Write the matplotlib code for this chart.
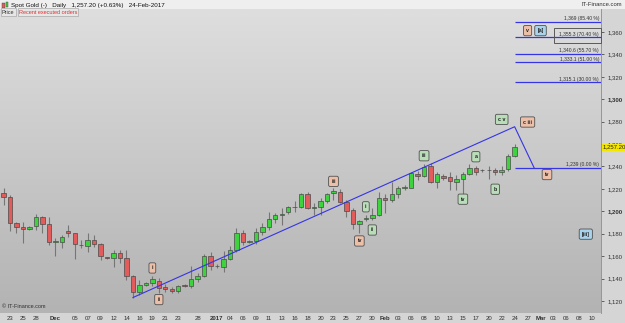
import numpy as np
import pandas as pd
import matplotlib.pyplot as plt
from matplotlib.patches import Rectangle
from matplotlib.colors import LinearSegmentedColormap
import matplotlib.transforms as mtransforms

plt.rcParams['font.family'] = ['Liberation Sans', 'DejaVu Sans']

# daily bars from 22-Nov-2016 to 24-Feb-2017 (Sunday sessions included)
opens = [1216.1, 1212.5, 1189.3, 1185.7, 1184.0, 1186.9, 1194.7, 1188.7, 1172.5, 1172.9,
         1182.7, 1180.4, 1170.0, 1169.3, 1174.4, 1170.5, 1158.6, 1158.0, 1163.0, 1158.0,
         1142.5, 1127.7, 1134.0, 1136.2, 1138.0, 1132.1, 1130.6, 1128.8, 1134.0, 1133.3,
         1139.3, 1142.2, 1160.1, 1151.5, 1150.0, 1157.1, 1165.5, 1180.4, 1173.0, 1173.8,
         1181.8, 1185.7, 1193.1, 1196.3, 1199.6, 1203.8, 1203.6, 1215.2, 1203.0, 1203.6,
         1209.2, 1216.0, 1217.5, 1208.6, 1201.0, 1188.7, 1192.9, 1193.8, 1196.7, 1211.6,
         1210.1, 1215.2, 1220.7, 1221.1, 1233.3, 1231.5, 1240.4, 1226.4, 1231.8, 1230.4,
         1226.4, 1228.6, 1233.0, 1238.4, 1236.5, 1236.8, 1236.9, 1234.8, 1237.8, 1249.6]
highs = [1220.8, 1214.6, 1190.7, 1190.7, 1187.0, 1197.6, 1195.8, 1194.7, 1175.9, 1178.8,
         1187.8, 1180.9, 1174.4, 1180.4, 1178.8, 1171.4, 1159.5, 1165.5, 1165.5, 1165.5,
         1143.1, 1138.7, 1137.0, 1142.2, 1140.4, 1134.8, 1132.0, 1134.5, 1135.0, 1151.0,
         1144.5, 1161.9, 1164.0, 1153.0, 1164.8, 1169.0, 1184.8, 1183.3, 1174.0, 1184.8,
         1189.3, 1199.6, 1198.1, 1202.7, 1204.8, 1209.5, 1216.7, 1217.6, 1207.0, 1212.2,
         1216.7, 1220.5, 1219.6, 1210.0, 1202.7, 1192.2, 1196.7, 1202.7, 1217.6, 1215.5,
         1226.4, 1222.9, 1223.5, 1235.4, 1236.0, 1242.2, 1242.8, 1234.8, 1233.0, 1234.8,
         1232.1, 1234.8, 1242.2, 1240.0, 1238.0, 1240.0, 1238.4, 1240.0, 1250.8, 1259.8]
lows = [1205.6, 1182.0, 1180.4, 1171.4, 1183.0, 1183.3, 1180.4, 1169.9, 1160.1, 1166.9,
        1177.3, 1157.1, 1166.9, 1164.0, 1168.4, 1156.5, 1157.0, 1150.5, 1153.6, 1138.7,
        1123.0, 1125.3, 1133.0, 1133.3, 1127.1, 1128.0, 1127.0, 1126.9, 1132.5, 1131.3,
        1136.5, 1141.0, 1147.6, 1149.5, 1146.1, 1156.5, 1164.0, 1169.9, 1172.0, 1171.0,
        1178.8, 1183.3, 1189.5, 1187.8, 1197.6, 1199.0, 1202.7, 1201.8, 1196.7, 1197.0,
        1207.7, 1210.0, 1207.1, 1195.2, 1184.2, 1180.4, 1191.0, 1192.0, 1195.8, 1198.2,
        1208.6, 1212.0, 1219.0, 1220.5, 1228.0, 1230.9, 1225.0, 1220.5, 1228.0, 1219.0,
        1219.0, 1213.0, 1232.1, 1232.7, 1235.0, 1229.0, 1232.4, 1232.4, 1236.0, 1248.8]
closes = [1213.0, 1189.3, 1185.7, 1184.0, 1186.2, 1194.7, 1188.7, 1172.3, 1173.0, 1176.8,
          1180.4, 1170.5, 1169.6, 1174.4, 1170.5, 1160.1, 1158.3, 1162.5, 1158.0, 1142.5,
          1127.7, 1134.2, 1136.0, 1139.2, 1131.8, 1130.6, 1128.8, 1133.3, 1133.6, 1139.3,
          1142.2, 1160.1, 1151.2, 1151.0, 1157.1, 1165.5, 1180.4, 1172.3, 1173.5, 1181.8,
          1185.7, 1193.1, 1196.7, 1197.8, 1203.6, 1203.5, 1215.2, 1202.7, 1203.6, 1209.2,
          1215.2, 1218.0, 1208.6, 1200.5, 1188.4, 1191.3, 1194.3, 1196.7, 1211.6, 1210.1,
          1215.2, 1220.5, 1221.4, 1233.9, 1231.8, 1239.8, 1226.4, 1233.3, 1230.0, 1227.1,
          1228.6, 1233.0, 1238.4, 1234.8, 1236.9, 1236.5, 1234.8, 1236.9, 1249.6, 1257.2]

# trading calendar incl. empty future bars up to 10-Mar
days = pd.date_range("2016-11-22", "2017-03-10")
days = days[(days.dayofweek != 5) & ~days.isin(pd.to_datetime(["2016-12-25", "2017-01-01"]))]
pos = {d.strftime("%Y-%m-%d"): k for k, d in enumerate(days)}

tick_dates = ["2016-11-23", "2016-11-25", "2016-11-28", "2016-12-01", "2016-12-05", "2016-12-07",
              "2016-12-09", "2016-12-12", "2016-12-14", "2016-12-16", "2016-12-19", "2016-12-21",
              "2016-12-23", "2016-12-28", "2017-01-02", "2017-01-04", "2017-01-06", "2017-01-09",
              "2017-01-11", "2017-01-13", "2017-01-16", "2017-01-18", "2017-01-20", "2017-01-23",
              "2017-01-25", "2017-01-27", "2017-01-30", "2017-02-01", "2017-02-03", "2017-02-06",
              "2017-02-08", "2017-02-10", "2017-02-13", "2017-02-15", "2017-02-17", "2017-02-20",
              "2017-02-22", "2017-02-24", "2017-02-27", "2017-03-01", "2017-03-03", "2017-03-06",
              "2017-03-08", "2017-03-10"]
month_marks = {"2016-12-01": "Dec", "2017-01-02": "2017", "2017-02-01": "Feb", "2017-03-01": "Mar"}

# retracement levels
fib_prices = [1369.0, 1355.3, 1340.6, 1333.1, 1315.1]
fib_labels = ["1,369 (85.40 %)", "1,355.3 (70.40 %)", "1,340.6 (55.70 %)",
              "1,333.1 (51.00 %)", "1,315.1 (30.00 %)"]
base_price = 1239.0

# trend line (date, price)
trend_dates = ["2016-12-15", "2017-02-24", "2017-02-28"]
trend_prices = [1123.0, 1275.5, 1239.0]

# wave count labels: text, date, price, style
waves = [("i", "2016-12-19", 1149.4, "s"), ("ii", "2016-12-20", 1121.2, "s"),
         ("iii", "2017-01-23", 1226.7, "s"), ("iv", "2017-01-27", 1173.5, "s"),
         ("i", "2017-01-29", 1204.0, "g"), ("ii", "2017-01-30", 1183.3, "g"),
         ("iii", "2017-02-08", 1249.6, "g"), ("iv", "2017-02-15", 1210.8, "g"),
         ("a", "2017-02-17", 1248.7, "g"), ("b", "2017-02-21", 1219.7, "g"),
         ("c v", "2017-02-22", 1282.0, "g"), ("c iii", "2017-02-27", 1279.7, "s"),
         ("iv", "2017-03-02", 1232.8, "s"), ("[iii]", "2017-03-09", 1179.6, "b"),
         ("v", "2017-02-27", 1361.3, "s"), ("[a]", "2017-03-01", 1361.3, "b")]
box_colors = {"s": "#ebbfa8", "g": "#b9dcb9", "b": "#a9d3ea"}

fig = plt.figure(figsize=(6.25, 3.23), dpi=100, facecolor="#d5d5d5")
ax = fig.add_axes([0, 10 / 323, 601 / 625, 304 / 323])
x0, x1 = -0.55, 92.35
y0, y1 = 1109.2, 1380.6
ax.set_xlim(x0, x1)
ax.set_ylim(y0, y1)

bg = LinearSegmentedColormap.from_list("bg", ["#b3b3b3", "#dedede"])
ax.imshow(np.linspace(0, 1, 200)[:, None], extent=[x0, x1, y0, y1], origin="lower",
          aspect="auto", cmap=bg, zorder=0)

# candles
xs = np.arange(len(closes))
o = np.array(opens); c = np.array(closes)
up = c >= o
ax.vlines(xs, lows, highs, color="#767676", lw=0.8, zorder=2)
body_h = np.maximum(np.abs(c - o), 0.6)
ax.bar(xs, body_h, bottom=np.minimum(o, c), width=0.68,
       color=np.where(up, "#3fd23f", "#e35c5c"), edgecolor="#4a4a4a", lw=0.5, zorder=3)

# trend line
ax.plot([pos[d] for d in trend_dates], trend_prices, color="#3535e6", lw=0.8, zorder=4)
ax.hlines(base_price, pos["2017-02-24"], x1, color="#3535e6", lw=0.9, zorder=4)
ax.text(x1 - 0.3, base_price + 0.6, "1,239 (0.00 %)", ha="right", va="bottom",
        fontsize=3.6, color="#333333", zorder=5)

# retracement lines
for p, lab in zip(fib_prices, fib_labels):
    ax.hlines(p, pos["2017-02-24"], x1, color="#3535e6", lw=0.9, zorder=4)
    ax.text(x1 - 0.3, p + 0.6, lab, ha="right", va="bottom", fontsize=3.6,
            color="#333333", zorder=5)
box_left = pos["2017-03-06"] - 1.9
ax.add_patch(Rectangle((box_left, 1349.9), x1 - box_left, 13.4,
                       fill=False, ec="#5a5a5a", lw=0.7, zorder=5, clip_on=False))

# wave labels
for txt, d, p, st in waves:
    ax.text(pos[d], p, txt, ha="center", va="center", fontsize=3.8, fontweight="bold",
            color="#202020", zorder=6,
            bbox=dict(boxstyle="round,pad=0.5,rounding_size=0.3", fc=box_colors[st],
                      ec="#505050", lw=0.6))

# axes
ax.yaxis.tick_right()
yt = list(range(1120, 1361, 20))
ax.set_yticks(yt)
ax.set_yticklabels([f"{v:,}" for v in yt])
for lab, v in zip(ax.get_yticklabels(), yt):
    if v % 100 == 0:
        lab.set_fontweight("bold")
ax.tick_params(axis="y", labelsize=4.3, length=2, pad=3, colors="#303030", width=0.5)
ax.set_xticks([pos[d] for d in tick_dates])
ax.set_xticklabels([month_marks.get(d, d[-2:]) for d in tick_dates])
for lab, d in zip(ax.get_xticklabels(), tick_dates):
    if d in month_marks:
        lab.set_fontweight("bold")
ax.tick_params(axis="x", labelsize=4.3, length=0, pad=2.5, colors="#303030")
for s in ["top", "left", "bottom"]:
    ax.spines[s].set_visible(False)
ax.spines["right"].set_color("#8c8c8c")
ax.spines["right"].set_linewidth(0.6)

# last price tag
tr = mtransforms.blended_transform_factory(ax.transAxes, ax.transData)
ax.text(1.003, closes[-1], "1,257.20", transform=tr, ha="left", va="center", fontsize=4.3,
        color="#202020", zorder=10, clip_on=False,
        bbox=dict(boxstyle="square,pad=0.15", fc="#f5e600", ec="none"))

# header and watermarks
fig.patches.append(Rectangle((0, 1 - 9 / 323), 1, 9 / 323, transform=fig.transFigure,
                             fc="#efefef", ec="none", zorder=0))
fig.patches.append(Rectangle((2 / 625, 1 - 8 / 323), 2.5 / 625, 5 / 323,
                             transform=fig.transFigure, fc="#e35c5c", ec="#404040", lw=0.3))
fig.patches.append(Rectangle((5.5 / 625, 1 - 7 / 323), 2.5 / 625, 5 / 323,
                             transform=fig.transFigure, fc="#3fd23f", ec="#404040", lw=0.3))
fig.text(11 / 625, 1 - 5 / 323, "Spot Gold (-)   Daily   1,257.20 (+0.63%)   24-Feb-2017",
         fontsize=4.5, va="center", ha="left", color="#101010")
fig.text(2 / 625, 1 - 12 / 323, "Price", fontsize=4, va="center", ha="left", color="#303030",
         bbox=dict(boxstyle="square,pad=0.2", fc="#e6e6e6", ec="#9a9a9a", lw=0.4))
fig.text(19 / 625, 1 - 12 / 323, "Recent executed orders", fontsize=4, va="center", ha="left",
         color="#e03030",
         bbox=dict(boxstyle="square,pad=0.2", fc="#e6e6e6", ec="#9a9a9a", lw=0.4))
fig.text(622 / 625, 1 - 5 / 323, "IT-Finance.com", fontsize=4.2, va="center", ha="right",
         color="#303030")
fig.text(2 / 625, 1 - 307 / 323, "© IT-Finance.com", fontsize=4, va="center", ha="left",
         color="#303030")

fig.savefig("out.png", dpi=100, facecolor=fig.get_facecolor())
